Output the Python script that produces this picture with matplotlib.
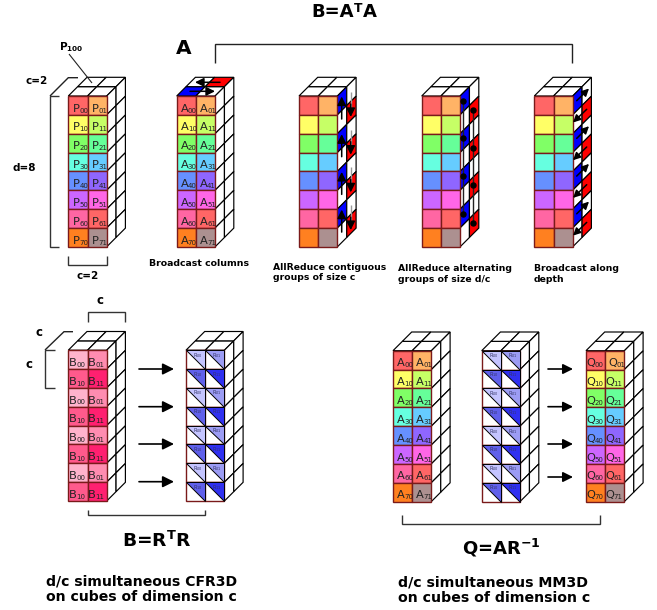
import matplotlib
matplotlib.use("Agg")
import matplotlib.pyplot as plt
from matplotlib.patches import Polygon, FancyArrowPatch

plt.rcParams['font.family'] = ['DejaVu Sans']
plt.rcParams['mathtext.default'] = 'regular'

ROWS = 8
COLS = 2
DEPTH = 2
CELL_W = 19.2
CELL_H = 18.85
DEPTH_STEP = 9.35
EDGE = '#7a1a1a'

PALETTE = [['#ff6666', '#ffb366'], ['#ffff66', '#c6ff66'], ['#80ff66', '#66ff99'],
           ['#66ffe0', '#66ccff'], ['#6690ff', '#8f66ff'], ['#cc66ff', '#ff66e6'],
           ['#ff66a3', '#ff6666'], ['#ff8020', '#ac9090']]
B_COLORS = [['#ffb3cc', '#ff8cb0'], ['#ff5a8c', '#ff2070']]
R_COLORS = [['#c4c4ff', '#9c9cf4'], ['#6060ea', '#3030f0']]
B_INDEX = ['00', '01', '10', '11']
R_INDEX = ['00', '01', '10', '11']
MATRIX_INDEX = [['00', '01'], ['10', '11'], ['20', '21'], ['30', '31'],
                ['40', '41'], ['50', '51'], ['60', '61'], ['70', '71']]
PAIR_ROWS = [0, 2, 4, 6]
LETTER_OFFSET = {'P': 4.6, 'A': 4.0, 'B': 0.8, 'Q': 0.4}
LETTER_WIDTH = {'P': 6.4, 'A': 7.2, 'B': 7.0, 'Q': 8.0}

fig = plt.figure(figsize=(6.57, 6.10), dpi=100)
ax = fig.add_axes([0, 0, 1, 1])
ax.set_xlim(0, 657)
ax.set_ylim(610, 0)
ax.axis('off')


def poly(pts, fc='white', ec='black', lw=0.85, z=2):
    ax.add_patch(Polygon(pts, closed=True, facecolor=fc, edgecolor=ec, linewidth=lw, zorder=z))


def line(xs, ys, color='#222222', lw=1.0, z=6):
    ax.plot(xs, ys, color=color, lw=lw, zorder=z, solid_capstyle='butt', solid_joinstyle='miter')


def arrow(p0, p1, ms=13, lw=1.1, z=8):
    ax.add_patch(FancyArrowPatch(p0, p1, arrowstyle='-|>', mutation_scale=ms, color='black',
                                 lw=lw, shrinkA=0, shrinkB=0, zorder=z))


def side_pt(x0, y0, r, d):
    return (x0 + COLS * CELL_W + d * DEPTH_STEP, y0 + r * CELL_H - d * DEPTH_STEP)


def top_pt(x0, y0, c, d):
    return (x0 + c * CELL_W + d * DEPTH_STEP, y0 - d * DEPTH_STEP)


def stack(x0, y0, front=None, letter=None, paint_side=False, top=None):
    for c in range(COLS):
        for d in range(DEPTH):
            fc = 'white'
            if top and (c, d) in top:
                fc = top[(c, d)]
            poly([top_pt(x0, y0, c, d), top_pt(x0, y0, c + 1, d),
                  top_pt(x0, y0, c + 1, d + 1), top_pt(x0, y0, c, d + 1)], fc=fc)
    for r in range(ROWS):
        for d in range(DEPTH):
            fc = 'white'
            if paint_side and d == 0 and r % 2 == 0:
                fc = '#0000ff'
            if paint_side and d == 1 and r % 2 == 1:
                fc = '#ff0000'
            poly([side_pt(x0, y0, r, d), side_pt(x0, y0, r, d + 1),
                  side_pt(x0, y0, r + 1, d + 1), side_pt(x0, y0, r + 1, d)], fc=fc)
    for r in range(ROWS):
        for c in range(COLS):
            x, y = x0 + c * CELL_W, y0 + r * CELL_H
            if front == 'R':
                poly([(x, y), (x + CELL_W, y), (x + CELL_W, y + CELL_H), (x, y + CELL_H)],
                     fc='white', ec=EDGE, lw=1.0, z=3)
                poly([(x, y), (x + CELL_W, y), (x + CELL_W, y + CELL_H)],
                     fc=R_COLORS[r % 2][c], ec='black', lw=0.7, z=4)
                ax.text(x + CELL_W * 0.62, y + CELL_H * 0.27, f'$R_{{{R_INDEX[2 * (r % 2) + c]}}}$',
                        fontsize=3.6, ha='center', va='center', color='#333366', zorder=5)
            else:
                col = B_COLORS[r % 2][c] if front == 'B' else PALETTE[r][c]
                poly([(x, y), (x + CELL_W, y), (x + CELL_W, y + CELL_H), (x, y + CELL_H)],
                     fc=col, ec=EDGE, lw=1.0, z=3)
                if letter:
                    idx = B_INDEX[2 * (r % 2) + c] if front == 'B' else MATRIX_INDEX[r][c]
                    off = LETTER_OFFSET[letter]
                    if letter == 'Q' and r == 0 and c == 1:
                        off = 3.0
                    ax.text(x + off, y + CELL_H * 0.83, letter, fontsize=8.2, ha='left',
                            va='baseline', color='#222222', zorder=5)
                    ax.text(x + off + LETTER_WIDTH[letter], y + CELL_H * 0.88, idx, fontsize=5.0,
                            ha='left', va='baseline', color='#222222', zorder=5)


def bold(x, y, s, size=8, **kw):
    ax.text(x, y, s, fontsize=size, fontweight='bold', color='black', zorder=9, **kw)


# ---- top row
stack(68.3, 96, letter='P')
stack(176.7, 96, letter='A', top={(0, 0): '#0000ff', (1, 1): '#ff0000'})
stack(299, 96, paint_side=True)
stack(421.7, 96, paint_side=True)
stack(534.3, 96, paint_side=True)

# Broadcast columns arrows
arrow((190, 91.3), (215, 91.3))
arrow((220, 82.3), (195, 82.3))

# Contiguous
for r in PAIR_ROWS:
    y = 96 + r * CELL_H
    arrow((341.7, y + 23), (341.7, y + 0.5), ms=13)
    line([350.7, 350.7], [y - 4, y + 12], color='#999999', z=7)
    arrow((350.7, y + 8), (350.7, y + 21), ms=13)

# Alternating
line([463, 463], [100.7, 100.7 + 6 * CELL_H], lw=1.0, z=7)
line([472.7, 472.7], [110, 110 + 6 * CELL_H], lw=1.0, z=7)
for r in PAIR_ROWS:
    ax.plot([463], [100.7 + r * CELL_H], 'o', color='black', ms=3.6, zorder=8)
    ax.plot([472.7], [110 + r * CELL_H], 'o', color='black', ms=3.6, zorder=8)

# Depth broadcast
for r in PAIR_ROWS:
    y = r * CELL_H
    arrow((576.7, 100.7 + y), (589, 88.5 + y), ms=11)
    arrow((586.7, 109.3 + y), (573, 122.5 + y), ms=11)

# ---- bottom row
stack(68.3, 350.2, front='B', letter='B')
stack(186, 350.2, front='R')
stack(393, 350.7, letter='A')
stack(481.7, 350.7, front='R')
stack(586, 350.7, letter='Q')

for y in [369, 406.7, 444, 481.7]:
    arrow((139, y), (174, y), ms=17, lw=1.2)
for y in [369, 406.7, 444, 477]:
    arrow((548, y), (573, y), ms=15, lw=1.2)

# ---- brackets
line([214.5, 214.5, 572, 572], [63, 44, 44, 63])
line([59.3, 50, 50, 59.3], [96, 96, 246.7, 246.7], color='#333333')
line([50, 68.3, 78], [96, 77.7, 77.7], color='#222222')
line([68.3, 68.3, 106.7, 106.7], [256, 265, 265, 256], color='#333333')
line([69, 92], [54, 83], lw=0.8)
line([87.5, 87.5, 125, 125], [322, 312, 312, 322], color='#333333')
line([73, 64, 45], [331.7, 331.7, 350], color='#222222')
line([55, 45, 45, 55], [350, 350, 387.7, 387.7], color='#333333')
line([87.7, 87.7, 205, 205], [510, 515, 515, 510], color='#333333')
line([402.3, 402.3, 600, 600], [515, 524, 524, 515], color='#333333')

# ---- text
bold(353.5, 16.7, 'B=A', size=13, ha='right', va='baseline')
bold(354, 11.5, 'T', size=8.8, ha='left', va='baseline')
bold(363, 16.7, 'A', size=13, ha='left', va='baseline')
bold(184, 48, 'A', size=14.5, ha='center', va='center')
bold(59, 47, r'P$\mathbf{_{100}}$', size=7.5, va='center')
bold(37, 81, 'c=2', size=7.5, ha='center', va='center')
bold(24, 168, 'd=8', size=7.5, ha='center', va='center')
bold(88, 276, 'c=2', size=7.5, ha='center', va='center')
bold(100, 300, 'c', size=8.5, ha='center', va='center')
bold(39, 332, 'c', size=8.5, ha='center', va='center')
bold(29, 365, 'c', size=8.5, ha='center', va='center')
bold(149, 264, 'Broadcast columns', size=6.75, va='center')
bold(273, 272.5, 'AllReduce contiguous\ngroups of size c', size=6.7, va='center', linespacing=1.2)
bold(398, 274, 'AllReduce alternating\ngroups of size d/c', size=6.7, va='center', linespacing=1.2)
bold(534, 274, 'Broadcast along\ndepth', size=6.7, va='center', linespacing=1.2)
bold(157, 541, r'B=R$\mathbf{^{T}}$R', size=13.3, ha='center', va='center')
bold(501, 548, r'Q=AR$\mathbf{^{-1}}$', size=13, ha='center', va='center')
bold(46.5, 589, 'd/c simultaneous CFR3D\non cubes of dimension c', size=10.1, va='center', linespacing=1.1)
bold(398, 590.5, 'd/c simultaneous MM3D\non cubes of dimension c', size=10.2, va='center', linespacing=1.1)

fig.savefig('out.png', dpi=100, facecolor='white')
